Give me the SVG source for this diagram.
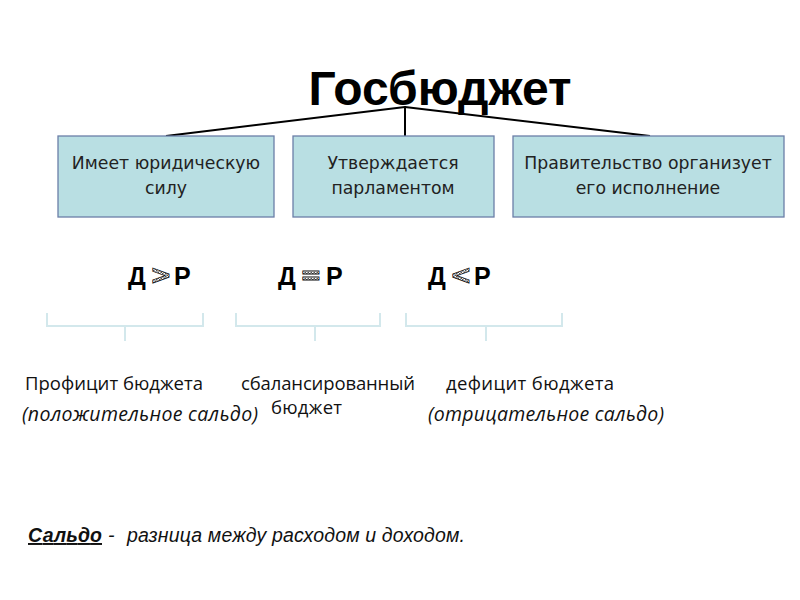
<svg xmlns="http://www.w3.org/2000/svg" width="800" height="600" viewBox="0 0 800 600">
<defs>
<pattern id="chk" width="3" height="3" patternUnits="userSpaceOnUse">
<rect width="3" height="3" fill="#ffffff"/>
<rect width="1.5" height="1.5" fill="#555"/>
<rect x="1.5" y="1.5" width="1.5" height="1.5" fill="#555"/>
</pattern>
</defs>
<style>
.box{fill:#b9dfe3;stroke:#6b7fa8;stroke-width:1.3}
.bt{font-family:"DejaVu Sans",Verdana,sans-serif;font-size:17.3px;fill:#222;text-anchor:middle}
.con{stroke:#000;stroke-width:2;fill:none}
.br{stroke:#d3e8ec;stroke-width:2;fill:none}
.dp{font-family:"Liberation Sans",Arial,sans-serif;font-size:25px;font-weight:bold;fill:#000}
.sym{font-family:"DejaVu Sans",sans-serif;font-size:26px;font-weight:bold;fill:url(#chk);stroke:#111;stroke-width:0.8}
.lt{font-family:"Open Sans","Liberation Sans",sans-serif;font-size:18.5px;fill:#111}
.it{font-style:italic;font-size:19.5px}
.bot{font-family:"Liberation Sans",Arial,sans-serif;font-size:19.5px;font-style:italic;fill:#111}
</style>
<rect width="800" height="600" fill="#fff"/>
<text x="440" y="105" text-anchor="middle" font-family="'Liberation Sans',Arial,sans-serif" font-size="48" font-weight="bold" fill="#000">Госбюджет</text>
<g id="connectors">
<line class="con" x1="405" y1="106" x2="405" y2="137"/>
<line class="con" x1="405" y1="107" x2="166" y2="136"/>
<line class="con" x1="405" y1="107" x2="650" y2="136"/>
</g>
<g id="n1"><rect class="box" x="58" y="136" width="216" height="81"/>
<text class="bt" x="166" y="169">Имеет юридическую</text><text class="bt" x="166" y="194">силу</text></g>
<g id="n2"><rect class="box" x="293" y="136" width="201" height="81"/>
<text class="bt" x="393" y="169">Утверждается</text><text class="bt" x="393" y="194">парламентом</text></g>
<g id="n3"><rect class="box" x="513" y="136" width="271" height="81"/>
<text class="bt" x="648" y="169">Правительство организует</text><text class="bt" x="648" y="194">его исполнение</text></g>
<g id="dp1"><text class="dp" x="128" y="285">Д</text><text class="sym" x="150" y="284">&gt;</text><text class="dp" x="174" y="285">Р</text></g>
<g id="dp2"><text class="dp" x="278" y="285">Д</text><text class="sym" x="300" y="284">=</text><text class="dp" x="326" y="285">Р</text></g>
<g id="dp3"><text class="dp" x="428" y="285">Д</text><text class="sym" x="450" y="284">&lt;</text><text class="dp" x="474" y="285">Р</text></g>
<g id="brackets">
<path class="br" d="M47 313V326H203V313M125 326V341"/>
<path class="br" d="M236 313V326H380V313M315 326V341"/>
<path class="br" d="M406 313V326H562V313M486 326V341"/>
</g>
<g id="labels">
<text class="lt" x="25" y="390" textLength="178">Профицит бюджета</text>
<text class="lt" x="241" y="390" textLength="174">сбалансированный</text>
<text class="lt" x="271" y="414" font-size="17" textLength="71">бюджет</text>
<text class="lt" x="446" y="390" textLength="168">дефицит бюджета</text>
<text class="lt it" x="22" y="421" textLength="236">(положительное сальдо)</text>
<text class="lt it" x="428" y="421" textLength="236">(отрицательное сальдо)</text>
</g>
<g id="note">
<text class="bot" x="28" y="542" font-weight="bold" text-decoration="underline" textLength="74">Сальдо</text>
<text class="bot" x="108" y="542">-</text>
<text class="bot" x="127" y="542" textLength="338">разница между расходом и доходом.</text>
</g>
</svg>
